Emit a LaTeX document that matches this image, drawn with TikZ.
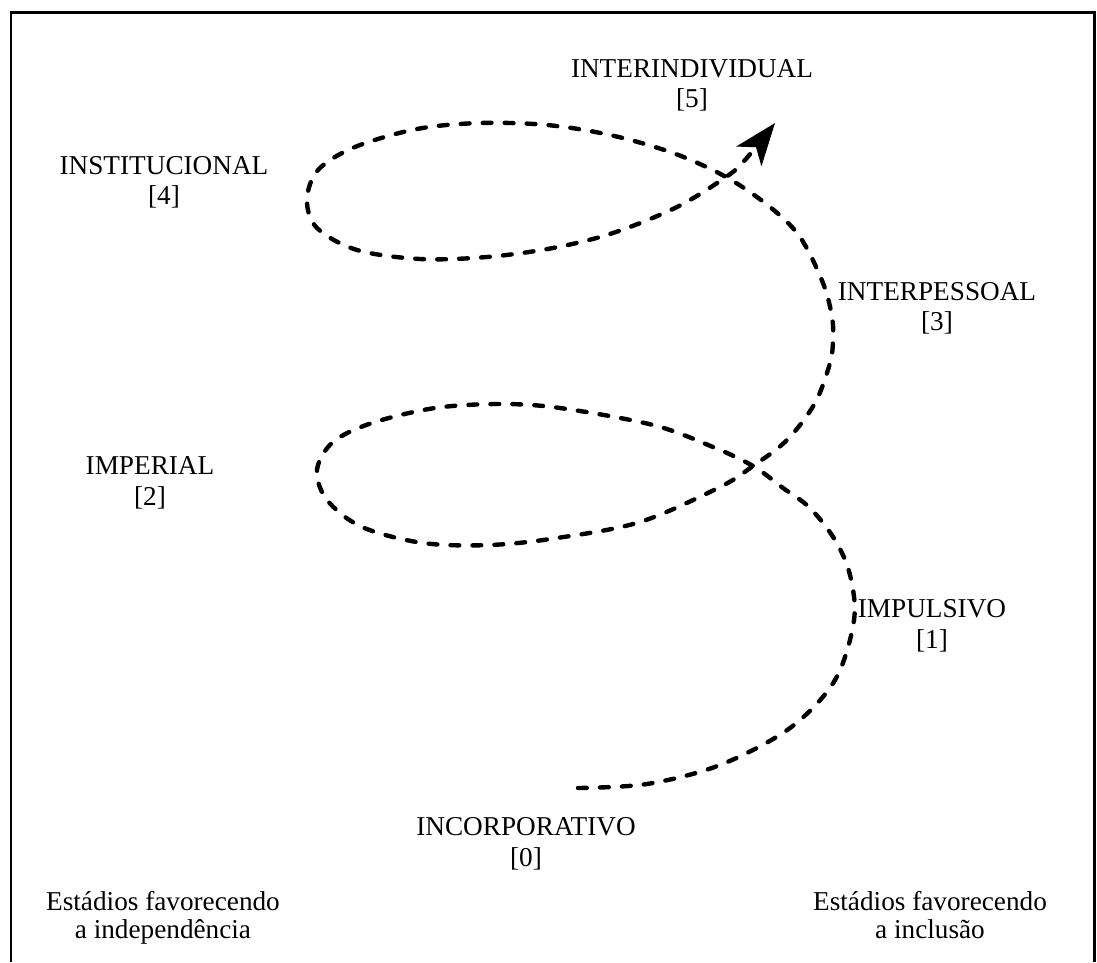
\documentclass[tikz,border=0pt]{standalone}
\usepackage{fontspec}
\setmainfont{Liberation Serif}
\usetikzlibrary{arrows.meta}
\begin{document}
\begin{tikzpicture}[x=0.02cm, y=-0.02cm,
  % labels are placed by the baseline of their last line
  stage/.style={font=\fontsize{15.5}{17.6}\selectfont, align=center, anchor=base, inner sep=0pt},
  pole/.style={font=\fontsize{15.5}{15.9}\selectfont, align=center, anchor=base, inner sep=0pt},
  frameline/.style={line width=1.7pt, line join=miter},
  spiral/.style={line width=2.5pt, line cap=round, dash pattern=on 5pt off 7.5pt,
    -{Stealth[length=24pt, width=18pt, inset=6.5pt]}}]

\useasboundingbox (0,0) rectangle (1097,962);

% open frame (no bottom edge)
\draw[frameline] (11,962) -- (11,13) -- (1094.5,13) -- (1094.5,962);

% stage labels
\node[stage] (s5) at (692,108) {INTERINDIVIDUAL\\{[5]}};
\node[stage] (s4) at (164,205) {INSTITUCIONAL\\{[4]}};
\node[stage] (s3) at (937,331) {INTERPESSOAL\\{[3]}};
\node[stage] (s2) at (150,505) {IMPERIAL\\{[2]}};
\node[stage] (s1) at (932,648) {IMPULSIVO\\{[1]}};
\node[stage] (s0) at (526,866) {INCORPORATIVO\\{[0]}};

% the two poles
\node[pole] (indep) at (163,938) {Estádios favorecendo\\a independência};
\node[pole] (incl)  at (930,938) {Estádios favorecendo\\a inclusão};

% developmental spiral
\coordinate (start) at (578,788);
\coordinate (tip)   at (775,123);
\draw[spiral] plot[smooth, tension=0.55] coordinates {
  (start) (647,784) (720,765) (790,728) (835,680) (854,620) (850,575)
  (835,540) (810,508) (783,488) (753,466) (713,447) (653,425) (560,408)
  (500,404) (435,408) (372,423) (333,442) (317,470) (327,500) (362,527)
  (423,543) (490,545) (557,538) (640,522) (720,487) (753,466) (787,440)
  (815,403) (830,363) (833,340) (832,317) (823,283) (800,237) (770,207)
  (726,177) (673,153) (610,135) (547,125) (480,123) (417,129) (355,147)
  (318,170) (307,200) (317,228) (357,250) (420,259) (487,257) (553,248)
  (613,233) (677,207) (726,177) (745,160) (tip)};
\end{tikzpicture}
\end{document}
